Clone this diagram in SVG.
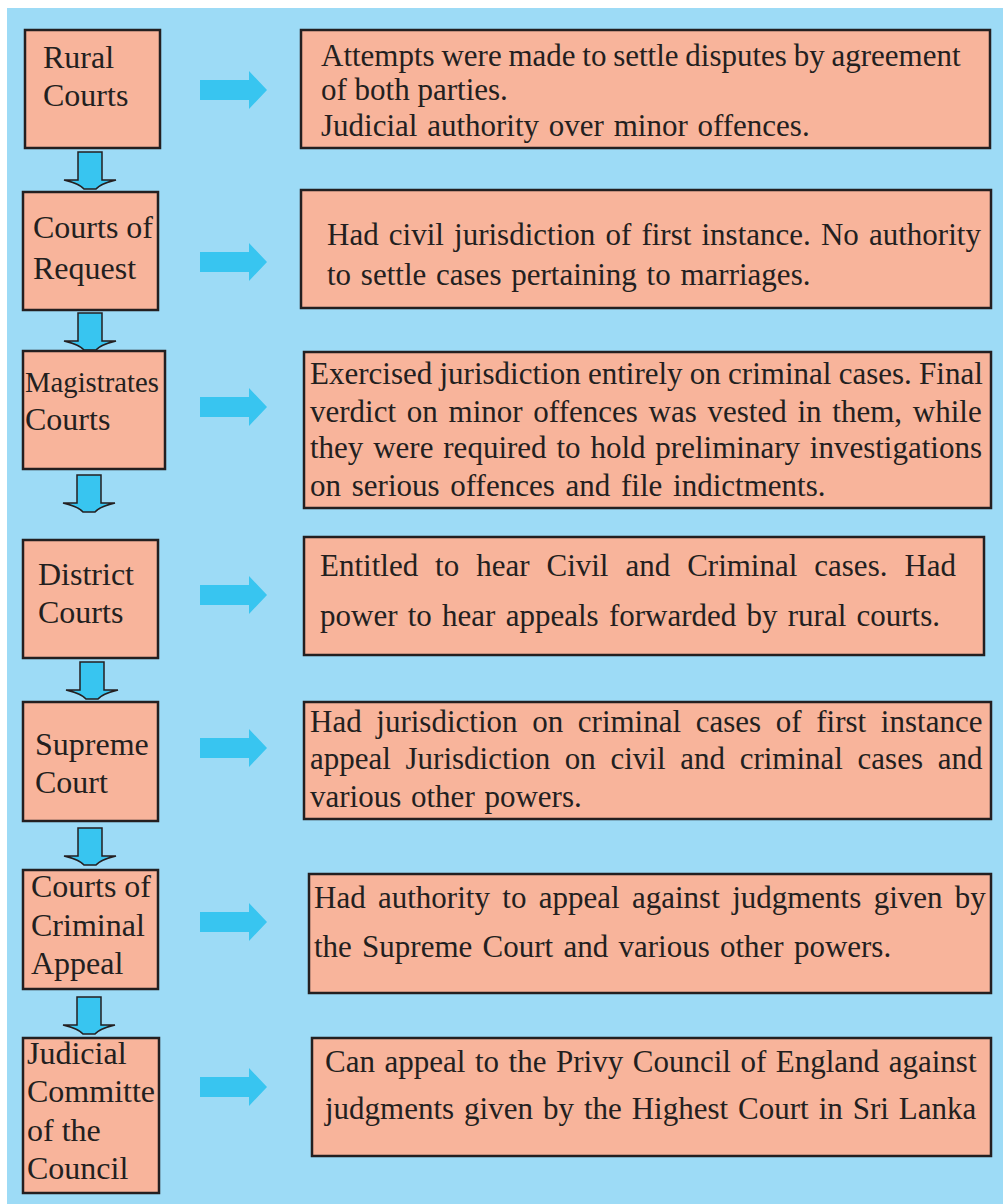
<svg xmlns="http://www.w3.org/2000/svg" width="1003" height="1204" viewBox="0 0 1003 1204">
<style>
.box{fill:#F8B49B;stroke:#231F20;stroke-width:2.5}
text{font-family:'Liberation Serif',Tinos,'Times New Roman',Times,serif;fill:#231F20}
.lt{font-size:32px}
.rt{font-size:31px}
.ra{fill:#38C5F0}
.da{fill:#38C5F0;stroke:#231F20;stroke-width:1.5;stroke-linejoin:miter}
</style>
<defs>
<path id="rarrow" class="ra" d="M0,-10 H49 V-19 L67,0 L49,19 V10 H0 Z"/>
<path id="darrow" class="da" d="M-12,0 H12 V28 H26 C18,30 10,32 6,37 H-6 C-10,32 -18,30 -26,28 H-12 Z"/>
</defs>
<rect x="0" y="0" width="1003" height="1204" fill="#FFFFFF"/>
<rect x="7" y="8" width="996" height="1196" fill="#9DDBF6"/>

<g id="connectors">
<use href="#darrow" x="90" y="152"/>
<use href="#darrow" x="90" y="313"/>
<use href="#darrow" x="89" y="475"/>
<use href="#darrow" x="92" y="662"/>
<use href="#darrow" x="90" y="828"/>
<use href="#darrow" x="89" y="997"/>
<use href="#rarrow" x="200" y="90"/>
<use href="#rarrow" x="200" y="262"/>
<use href="#rarrow" x="200" y="407"/>
<use href="#rarrow" x="200" y="595"/>
<use href="#rarrow" x="200" y="748"/>
<use href="#rarrow" x="200" y="922"/>
<use href="#rarrow" x="200" y="1087"/>
</g>

<g id="rural-courts">
<rect class="box" x="25" y="30" width="135" height="118"/>
<text class="lt" x="43" y="68">Rural</text>
<text class="lt" x="43" y="106">Courts</text>
</g>
<g id="courts-of-request">
<rect class="box" x="23" y="192" width="135" height="118"/>
<text class="lt" x="33" y="238">Courts of</text>
<text class="lt" x="33" y="279">Request</text>
</g>
<g id="magistrates-courts">
<rect class="box" x="23" y="351" width="142" height="118"/>
<text class="lt" x="25" y="392" style="font-size:30px" textLength="134" lengthAdjust="spacingAndGlyphs">Magistrates</text>
<text class="lt" x="25" y="430">Courts</text>
</g>
<g id="district-courts">
<rect class="box" x="23" y="540" width="135" height="118"/>
<text class="lt" x="38" y="585">District</text>
<text class="lt" x="38" y="623">Courts</text>
</g>
<g id="supreme-court">
<rect class="box" x="23" y="702" width="135" height="119"/>
<text class="lt" x="35" y="755">Supreme</text>
<text class="lt" x="35" y="793">Court</text>
</g>
<g id="courts-of-criminal-appeal">
<rect class="box" x="23" y="870" width="135" height="119"/>
<text class="lt" x="31" y="897">Courts of</text>
<text class="lt" x="31" y="936">Criminal</text>
<text class="lt" x="31" y="974">Appeal</text>
</g>
<g id="judicial-committee">
<rect class="box" x="23" y="1038" width="136" height="155"/>
<text class="lt" x="27" y="1064">Judicial</text>
<text class="lt" x="27" y="1102" textLength="128" lengthAdjust="spacingAndGlyphs">Committe</text>
<text class="lt" x="27" y="1141">of the</text>
<text class="lt" x="27" y="1179">Council</text>
</g>

<g id="desc-rural">
<rect class="box" x="301" y="30" width="689" height="118"/>
<text class="rt" x="321" y="66" word-spacing="-1">Attempts were made to settle disputes by agreement</text>
<text class="rt" x="321" y="100">of both parties.</text>
<text class="rt" x="321" y="136" word-spacing="2">Judicial authority over minor offences.</text>
</g>
<g id="desc-request">
<rect class="box" x="301" y="190" width="690" height="118"/>
<text class="rt" x="327" y="245" word-spacing="2.4">Had civil jurisdiction of first instance. No authority</text>
<text class="rt" x="327" y="285" word-spacing="2">to settle cases pertaining to marriages.</text>
</g>
<g id="desc-magistrates">
<rect class="box" x="304" y="352" width="687" height="156"/>
<text class="rt" x="310" y="384" word-spacing="-0.5">Exercised jurisdiction entirely on criminal cases.  Final</text>
<text class="rt" x="310" y="422" word-spacing="3">verdict on minor offences was vested in them, while</text>
<text class="rt" x="310" y="458" word-spacing="2.1">they were required to hold preliminary investigations</text>
<text class="rt" x="310" y="496" word-spacing="3">on serious offences and file indictments.</text>
</g>
<g id="desc-district">
<rect class="box" x="304" y="537" width="680" height="118"/>
<text class="rt" x="320" y="576" word-spacing="9.2">Entitled to hear Civil and Criminal cases. Had</text>
<text class="rt" x="320" y="626" word-spacing="2.5">power to hear appeals forwarded by rural courts.</text>
</g>
<g id="desc-supreme">
<rect class="box" x="304" y="702" width="687" height="117"/>
<text class="rt" x="310" y="732" word-spacing="6.9">Had jurisdiction on criminal cases of first instance</text>
<text class="rt" x="310" y="769" word-spacing="6.9">appeal Jurisdiction on civil and criminal cases and</text>
<text class="rt" x="310" y="807" word-spacing="2">various other powers.</text>
</g>
<g id="desc-criminal-appeal">
<rect class="box" x="309" y="874" width="682" height="119"/>
<text class="rt" x="314" y="908" word-spacing="4.6">Had authority to appeal against judgments given by</text>
<text class="rt" x="314" y="957" word-spacing="2.5">the Supreme Court and various other powers.</text>
</g>
<g id="desc-judicial">
<rect class="box" x="312" y="1038" width="679" height="118"/>
<text class="rt" x="325" y="1072" word-spacing="1.8">Can appeal to the Privy Council of England against</text>
<text class="rt" x="325" y="1119" word-spacing="2.2">judgments given by the Highest Court in Sri Lanka</text>
</g>
</svg>
